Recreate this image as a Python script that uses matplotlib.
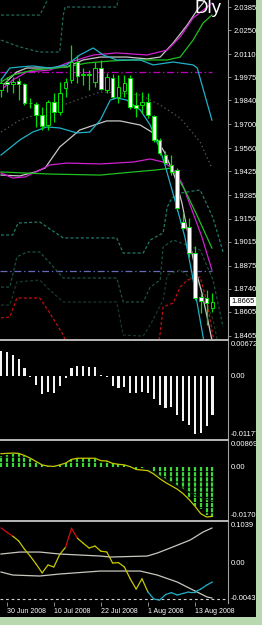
import matplotlib
matplotlib.use("Agg")
import matplotlib.pyplot as plt
from matplotlib.lines import Line2D
from matplotlib.patches import Rectangle
from matplotlib.transforms import blended_transform_factory

plt.rcParams["font.family"] = ["Liberation Sans", "DejaVu Sans"]
plt.rcParams["lines.scale_dashes"] = False

# ---- data -------------------------------------------------------------
# daily bars, 27 Jun 2008 .. 18 Aug 2008 (bar index 0..36)
opens = [1.9901, 1.9945, 1.9936, 1.9955, 1.9936, 1.9825, 1.9819, 1.9755, 1.9696, 1.9831,
         1.9772, 1.9912, 1.9959, 2.0064, 1.9988, 1.9994, 1.9947, 2.0029, 1.9901, 1.9971,
         1.9860, 1.9895, 1.9971, 1.9813, 1.9813, 1.9831, 1.9749, 1.9609, 1.9521, 1.9463,
         1.9433, 1.9130, 1.9101, 1.8949, 1.8692, 1.8686, 1.8628]
highs = [1.9971, 1.9976, 1.9976, 1.9971, 1.9942, 1.9854, 1.9831, 1.9801, 1.9842, 1.9883,
         1.9947, 1.9971, 2.0163, 2.0105, 2.0029, 2.0017, 2.0064, 2.0076, 2.0000, 1.9994,
         1.9988, 1.9988, 1.9988, 1.9889, 1.9889, 1.9883, 1.9755, 1.9620, 1.9545, 1.9521,
         1.9445, 1.9188, 1.9153, 1.8990, 1.8715, 1.8733, 1.8715]
lows = [1.9860, 1.9890, 1.9883, 1.9842, 1.9815, 1.9795, 1.9685, 1.9667, 1.9667, 1.9714,
        1.9755, 1.9860, 1.9941, 1.9941, 1.9930, 1.9901, 1.9918, 1.9901, 1.9883, 1.9849,
        1.9825, 1.9860, 1.9790, 1.9743, 1.9767, 1.9738, 1.9597, 1.9521, 1.9463, 1.9404,
        1.9194, 1.9090, 1.8926, 1.8674, 1.8599, 1.8530, 1.8605]
closes = [1.9941, 1.9936, 1.9950, 1.9936, 1.9825, 1.9822, 1.9755, 1.9690, 1.9831, 1.9772,
          1.9883, 1.9947, 2.0064, 1.9982, 1.9994, 1.9988, 2.0029, 1.9906, 1.9976, 1.9860,
          1.9918, 1.9941, 1.9801, 1.9795, 1.9831, 1.9755, 1.9609, 1.9533, 1.9474, 1.9422,
          1.9212, 1.9095, 1.8949, 1.8686, 1.8669, 1.8657, 1.8665]

date_ticks = [1, 9, 17, 25, 33]
date_labels = ["30 Jun 2008", "10 Jul 2008", "22 Jul 2008", "1 Aug 2008", "13 Aug 2008"]

price_ticks = [2.0385, 2.0250, 2.0110, 1.9975, 1.9840, 1.9700, 1.9560, 1.9425,
               1.9285, 1.9150, 1.9015, 1.8875, 1.8740, 1.8605, 1.8465]
last_price = 1.8665
level_magenta = 2.0006
level_slate = 1.8844

# band lines on the price chart (bar index, price)
cyan_up_x = [0, 1.5, 3.2, 5.4, 8.3, 11.2, 13.4, 15.7, 17.4, 19.7, 23.7, 25.9, 29.3, 32.7, 33.4, 35.9]
cyan_up_y = [1.9959, 2.0029, 2.0035, 2.0041, 2.0029, 2.0047, 2.0105, 2.0146, 2.0105, 2.0076,
             2.0076, 2.0047, 2.0064, 2.0047, 2.0029, 1.9725]
cyan_lo_x = [0, 1.5, 3.2, 5.4, 7.8, 10.0, 12.9, 15.1, 16.9, 18.6, 19.7, 21.4, 23.7, 25.4,
             27.1, 27.9, 29.6, 31.3, 32.5, 33.5, 34.4, 34.7]
cyan_lo_y = [1.9521, 1.9562, 1.9609, 1.9655, 1.9685, 1.9679, 1.9650, 1.9655, 1.9725, 1.9842,
             1.9854, 1.9842, 1.9784, 1.9696, 1.9550, 1.9463, 1.9258, 1.9042, 1.8832, 1.8634,
             1.8459, 1.8412]
white_up_x = [0, 2.7, 4.4, 8.3, 11.2, 14.0, 16.9, 21.4, 24.9, 27.1, 29.3, 31.7, 33.4, 34.4, 35.1]
white_up_y = [1.9918, 2.0006, 2.0029, 2.0029, 2.0035, 2.0076, 2.0093, 2.0093, 2.0082, 2.0093,
              2.0175, 2.0280, 2.0368, 2.0408, 2.0455]
magenta_up_x = [0, 2.0, 4.4, 8.3, 11.2, 15.7, 19.7, 24.9, 28.3, 30.5, 32.7, 35.1, 35.9]
magenta_up_y = [1.9901, 1.9959, 2.0006, 2.0017, 2.0058, 2.0105, 2.0117, 2.0105, 2.0134,
                2.0210, 2.0321, 2.0385, 2.0408]
green_up_x = [0, 2.0, 5.4, 11.2, 14.6, 18.6, 22.5, 28.3, 30.5, 32.7, 34.4, 35.9]
green_up_y = [1.9947, 1.9988, 2.0017, 2.0035, 2.0058, 2.0070, 2.0076, 2.0076, 2.0093,
              2.0192, 2.0292, 2.0338]
white_mid_x = [0, 3.2, 5.8, 7.5, 10.0, 13.4, 16.9, 18.0, 20.3, 23.7, 25.9, 27.9, 29.6,
               30.8, 31.8, 33.0, 34.2, 35.2, 35.9]
white_mid_y = [1.9404, 1.9399, 1.9422, 1.9445, 1.9568, 1.9667, 1.9708, 1.9720, 1.9720,
               1.9696, 1.9650, 1.9533, 1.9393, 1.9241, 1.9066, 1.8867, 1.8715, 1.8558, 1.8441]
magenta_lo_x = [0, 2.0, 4.1, 6.6, 8.3, 11.2, 16.9, 22.5, 25.4, 27.6, 29.1, 30.8, 32.5, 34.2, 35.9]
magenta_lo_y = [1.9416, 1.9387, 1.9393, 1.9433, 1.9463, 1.9474, 1.9469, 1.9480, 1.9498,
                1.9480, 1.9445, 1.9358, 1.9200, 1.9042, 1.8850]
green_lo_x = [0, 8.3, 16.9, 22.5, 26.2, 29.1, 31.3, 33.5, 35.9]
green_lo_y = [1.9422, 1.9410, 1.9404, 1.9422, 1.9433, 1.9445, 1.9317, 1.9159, 1.8978]
gray_dot_x = [0, 3.2, 8.3, 12.9, 16.9, 20.3, 23.7, 27.1, 30.5, 33.9, 35.9]
gray_dot_y = [1.9655, 1.9725, 1.9784, 1.9842, 1.9889, 1.9883, 1.9871, 1.9813, 1.9737, 1.9597, 1.9445]

# shifted channel lines (dashed)
chan_u1_x = [0, 6.6, 7.5, 8.3]
chan_u1_y = [2.0338, 2.0338, 2.0397, 2.0455]
chan_u2_x = [0, 3.2, 6.6, 10.0, 10.6, 10.9, 19.7, 20.1]
chan_u2_y = [2.0192, 2.0152, 2.0122, 2.0122, 2.0338, 2.0385, 2.0385, 2.0455]
chan_l1_x = [0, 2.0, 2.9, 6.6, 7.8, 10.6, 19.7, 20.8, 24.2, 25.4, 27.6, 28.3, 29.1, 30.5,
             33.9, 34.7, 36.1, 37.8]
chan_l1_y = [1.9054, 1.9054, 1.9124, 1.9130, 1.9101, 1.9037, 1.9037, 1.8949, 1.8949, 1.9025,
             1.9066, 1.9218, 1.9270, 1.9299, 1.9317, 1.9258, 1.9153, 1.8955]
chan_l2_x = [0, 1.5, 2.7, 4.4, 6.6, 8.3, 10.6, 19.7, 20.8, 24.2, 25.4, 27.1, 27.6, 29.3,
             33.9, 36.1, 37.8]
chan_l2_y = [1.8750, 1.8750, 1.8926, 1.8955, 1.8955, 1.8891, 1.8803, 1.8803, 1.8663, 1.8663,
             1.8750, 1.8791, 1.8984, 1.9025, 1.8966, 1.8791, 1.8517]
chan_l3_x = [0, 1.5, 2.7, 6.6, 8.3, 10.6, 19.7, 20.8, 24.2, 25.4, 27.6, 28.3, 30.5, 33.9, 36.1, 37.0]
chan_l3_y = [1.8645, 1.8645, 1.8780, 1.8791, 1.8733, 1.8663, 1.8663, 1.8470, 1.8464, 1.8529,
             1.8675, 1.8820, 1.8850, 1.8762, 1.8558, 1.8412]
chan_red_x = [0, 1.5, 2.7, 6.6, 8.3, 10.6, 11.2, 16.9, 26.7, 27.1, 27.6, 29.3, 30.5, 31.7,
              33.9, 35.1, 36.1, 36.3]
chan_red_y = [1.8570, 1.8575, 1.8686, 1.8686, 1.8599, 1.8470, 1.8412, 1.8266, 1.8412, 1.8482,
              1.8634, 1.8657, 1.8750, 1.8791, 1.8809, 1.8657, 1.8459, 1.8412]

# window 2: histogram
hist2 = [0.00477, 0.00464, 0.00413, 0.00337, 0.00159, -0.0002, -0.00172, -0.00337, -0.00299,
         -0.00318, -0.00191, -0.00032, 0.00159, 0.00203, 0.00191, 0.00178, 0.00178, 0.0002,
         -0.0002, -0.00191, -0.00223, -0.00203, -0.00318, -0.00318, -0.00299, -0.00318,
         -0.00426, -0.0054, -0.00604, -0.00591, -0.00744, -0.00846, -0.00922, -0.011,
         -0.01087, -0.00954, -0.00744]

# window 3: MACD
macd_main = [0.0039, 0.0041, 0.0045, 0.0045, 0.0039, 0.0028, 0.0017, 0.0008, 0.0006, 0.0006,
             0.0009, 0.0014, 0.0028, 0.0030, 0.0030, 0.0030, 0.0028, 0.0019, 0.0022, 0.0014,
             0.0011, 0.0008, 0.0002, -0.0006, -0.0003, 0.0, -0.0017, -0.0028, -0.0037,
             -0.0050, -0.0061, -0.0072, -0.0100, -0.0128, -0.0139, -0.0156, -0.0162]
macd_signal = [0.0045, 0.0046, 0.0047, 0.0046, 0.0039, 0.0030, 0.0019, 0.0008, 0.0004, 0.0003,
               0.0008, 0.0014, 0.0026, 0.0030, 0.0030, 0.0030, 0.0030, 0.0022, 0.0021, 0.0013,
               0.0010, 0.0008, 0.0002, -0.0007, -0.0009, -0.0011, -0.0022, -0.0037, -0.0050,
               -0.0061, -0.0072, -0.0087, -0.0106, -0.0128, -0.0153, -0.0164, -0.0162]
macd_dark_x = [25, 28, 31, 34, 36]
macd_dark_y = [-0.0006, -0.0039, -0.0072, -0.0100, -0.0111]

# window 4: oscillator with bands
osc = [0.089, 0.078, 0.068, 0.056, 0.035, 0.017, -0.003, -0.025, -0.005, -0.010, 0.022, 0.040,
       0.088, 0.063, 0.050, 0.038, 0.043, 0.030, 0.028, 0.000, 0.001, -0.010, -0.040, -0.066,
       -0.040, -0.073, -0.091, -0.094, -0.080, -0.075, -0.081, -0.077, -0.073, -0.073, -0.066,
       -0.056, -0.048]
osc_state = ["hi", "hi", "mid", "mid", "mid", "mid", "mid", "mid", "mid", "mid", "mid", "hi",
             "hi", "mid", "mid", "mid", "mid", "mid", "mid", "mid", "mid", "mid", "mid", "mid",
             "mid", "lo", "lo", "lo", "lo", "lo", "lo", "lo", "lo", "lo", "lo", "lo", "lo"]
band_up_x = [0, 3.2, 6.6, 10.0, 16.9, 18.6, 24.9, 26.6, 28.8, 32.2, 34.4, 35.9]
band_up_y = [0.0228, 0.0278, 0.0278, 0.0228, 0.0177, 0.0152, 0.0177, 0.0253, 0.0380, 0.0582, 0.0785, 0.0886]
band_lo_x = [0, 2.0, 6.6, 10.0, 16.9, 23.7, 26.6, 30.0, 32.7, 35.1, 35.9]
band_lo_y = [-0.0228, -0.0304, -0.0329, -0.0278, -0.0203, -0.0203, -0.0304, -0.0481, -0.0684, -0.0861, -0.0886]
osc_level = -0.091

# ---- layout (pixels) --------------------------------------------------
W, H = 262, 625
PLOT_W = 228
XLIM = (-0.17, 38.64)
GRID = "#a0a0a0"
FS = 5.5

fig = plt.figure(figsize=(W / 100, H / 100), dpi=100, facecolor="black")


def add_panel(top, bottom, ylim):
    ax = fig.add_axes([0, 1 - bottom / H, PLOT_W / W, (bottom - top) / H])
    ax.set_facecolor("black")
    ax.set_xlim(*XLIM)
    ax.set_ylim(*ylim)
    for s in ax.spines.values():
        s.set_visible(False)
    ax.set_xticks([])
    ax.set_yticks([])
    return ax


def side_label(ax, value, text, va="center"):
    tr = blended_transform_factory(ax.transAxes, ax.transData)
    ax.text(1 + 3 / PLOT_W, value, text, transform=tr, ha="left", va=va,
            fontsize=FS, color="white", clip_on=False)


ax1 = add_panel(0, 339, (1.8447, 2.0426))
ax2 = add_panel(341, 438, (-0.01177, 0.006727))
ax3 = add_panel(441, 519, (-0.01706, 0.00869))
ax4 = add_panel(522, 602, (-0.0987, 0.1039))

# ---- main price chart -------------------------------------------------
lw = 0.9
ax1.hlines(level_magenta, XLIM[0], 36, color="#c000c0", lw=lw, linestyles=(0, (5, 2, 1, 2)))
ax1.hlines(level_slate, XLIM[0], 36, color="#6868b8", lw=lw, linestyles=(0, (5, 2, 1, 2)))

for xs, ys, col in [(chan_u1_x, chan_u1_y, "#1e6858"), (chan_u2_x, chan_u2_y, "#1e6858"),
                    (chan_l1_x, chan_l1_y, "#207868"), (chan_l2_x, chan_l2_y, "#1a5040"),
                    (chan_l3_x, chan_l3_y, "#183828"), (chan_red_x, chan_red_y, "#c01010")]:
    ax1.plot(xs, ys, color=col, lw=lw, ls=(0, (2.2, 1.5)))
ax1.plot(gray_dot_x, gray_dot_y, color="#555555", lw=lw, ls=(0, (1, 2)))

ax1.plot(white_mid_x, white_mid_y, color="#c8c8c8", lw=lw)
ax1.plot(magenta_lo_x, magenta_lo_y, color="#d020d0", lw=lw)
ax1.plot(green_lo_x, green_lo_y, color="#20c020", lw=lw)
ax1.plot(cyan_lo_x, cyan_lo_y, color="#20b0c8", lw=lw)
ax1.plot(white_up_x, white_up_y, color="#c8c8c8", lw=lw)
ax1.plot(magenta_up_x, magenta_up_y, color="#d020d0", lw=lw)
ax1.plot(green_up_x, green_up_y, color="#20c020", lw=lw)
ax1.plot(cyan_up_x, cyan_up_y, color="#20b0c8", lw=lw)

idx = list(range(len(opens)))
ax1.vlines(idx, lows, highs, color="#00e000", lw=0.9, zorder=4)
for i in idx:
    o, c = opens[i], closes[i]
    bottom = min(o, c)
    height = max(abs(c - o), 0.0004)
    face = "white" if c < o else "black"
    ax1.bar(i, height, bottom=bottom, width=0.62, color=face,
            edgecolor="#00e000", linewidth=0.7, zorder=5)

ax1.set_yticks(price_ticks)
ax1.yaxis.tick_right()
ax1.set_yticklabels([f"{p:.4f}" for p in price_ticks])
ax1.tick_params(axis="y", colors=GRID, labelcolor="white", labelsize=FS, length=2.5,
                width=0.6, pad=1.2)
tr1 = blended_transform_factory(ax1.transAxes, ax1.transData)
ax1.text(1 + 3 / PLOT_W, last_price, f"{last_price:.4f}", transform=tr1, ha="left",
         va="center", fontsize=FS, color="black", clip_on=False, zorder=10,
         bbox=dict(facecolor="white", edgecolor="none", pad=0.8))
fig.text(194 / W, 1.0, "Dly", ha="left", va="top", fontsize=13.5, color="white")

# ---- window 2 -----------------------------------------------------------
ax2.bar(idx, hist2, width=0.36, color="#f4f4f4", linewidth=0)
side_label(ax2, 0.006727, "0.006727", va="top")
side_label(ax2, 0.0, "0.00")
side_label(ax2, -0.01177, "-0.01177", va="bottom")

# ---- window 3 -----------------------------------------------------------
ax3.vlines(idx, 0, macd_main, color="#3ad83a", lw=1.6, linestyles=(0, (3, 0.7)))
ax3.plot(macd_dark_x, macd_dark_y, color="#0c200c", lw=0.8)
ax3.plot(idx, macd_signal, color="#c8c800", lw=0.9)
side_label(ax3, 0.00869, "0.00869", va="top")
side_label(ax3, 0.0, "0.00")
side_label(ax3, -0.01706, "-0.01706", va="bottom")

# ---- window 4 -----------------------------------------------------------
ax4.axhline(osc_level, color="#d0d0d0", lw=0.8, ls=(0, (2, 2)))
ax4.plot(band_up_x, band_up_y, color="#c8c8c0", lw=lw)
ax4.plot(band_lo_x, band_lo_y, color="#c8c8c0", lw=lw)
state_col = {"hi": "#d01010", "mid": "#c8c800", "lo": "#20b0c8"}
for i in range(len(osc) - 1):
    ax4.plot([i, i + 1], [osc[i], osc[i + 1]], color=state_col[osc_state[i]], lw=lw,
             solid_capstyle="round")
side_label(ax4, 0.1039, "0.1039", va="top")
side_label(ax4, 0.0, "0.00")
side_label(ax4, -0.0987, "-0.0043", va="bottom")

ax4.set_xticks(date_ticks)
ax4.set_xticklabels(date_labels, ha="left")
ax4.tick_params(axis="x", colors=GRID, labelcolor="white", labelsize=5, length=3,
                width=0.6, pad=1.5)

# ---- frame: axis line, separators, window border -------------------------
fig.add_artist(Line2D([PLOT_W / W] * 2, [1 - 603 / H, 1], color=GRID, lw=0.8))
for ysep in (340, 439.5, 520.5):
    fig.add_artist(Line2D([0, PLOT_W / W], [1 - ysep / H] * 2, color="#b8b8b8", lw=1.4))
fig.add_artist(Rectangle((256 / W, 0), 6 / W, 1, transform=fig.transFigure,
                         facecolor="#b8d8b0", edgecolor="none"))
fig.add_artist(Rectangle((0, 0), 1, 8 / H, transform=fig.transFigure,
                         facecolor="#b8d8b0", edgecolor="none"))

fig.savefig("out.png", dpi=100, facecolor="black")
